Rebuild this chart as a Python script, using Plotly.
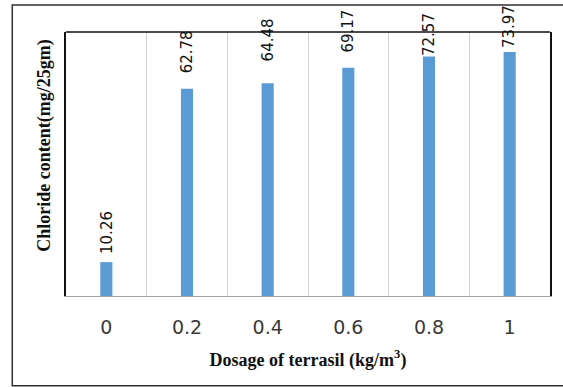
import plotly.graph_objects as go

# Chloride content measured at each terrasil dosage
dosage_labels = ["0", "0.2", "0.4", "0.6", "0.8", "1"]
chloride = [10.26, 62.78, 64.48, 69.17, 72.57, 73.97]

# vertical nudges (px) for the rotated value labels
label_shift = [6, 13, 20, 13, -2, 2]

BAR_BLUE = "#5B9BD5"

fig = go.Figure()
fig.add_trace(go.Bar(
    x=dosage_labels,
    y=chloride,
    marker=dict(color=BAR_BLUE, line=dict(width=0)),
    hoverinfo="x+y",
))

# rotated value labels above each bar (category index on the x axis)
for idx, (val, dy) in enumerate(zip(chloride, label_shift)):
    fig.add_annotation(
        x=idx, y=val, text=f"{val:.2f}", textangle=-90,
        showarrow=False, xanchor="center", yanchor="bottom", yshift=dy,
        font=dict(family="DejaVu Sans", size=15, color="#111111"),
    )

# outer frame around the whole figure
fig.add_shape(type="rect", xref="paper", yref="paper",
              x0=-0.111, x1=1.06, y0=-0.34, y1=1.102,
              line=dict(color="#303030", width=1.5), layer="below")
# top edge of plot area
fig.add_shape(type="line", xref="paper", yref="paper",
              x0=0, x1=1, y0=1, y1=1,
              line=dict(color="#111111", width=1.5))

fig.update_layout(
    width=563, height=387,
    margin=dict(l=66, r=11, t=32, b=91),
    paper_bgcolor="white", plot_bgcolor="white",
    bargap=0.85,
    showlegend=False,
    font=dict(family="DejaVu Sans", color="#404040"),
)

fig.update_xaxes(
    type="category",
    tickson="boundaries",
    showgrid=True, gridcolor="#D0D0D0", gridwidth=1,
    showline=True, linecolor="#A0A0A0", linewidth=1,
    ticks="", ticklen=0, ticklabelstandoff=14,
    tickfont=dict(family="DejaVu Sans", size=19, color="#3A3A3A"),
    title=dict(text="<b>Dosage of terrasil (kg/m<sup>3</sup>)</b>",
               font=dict(family="Liberation Serif", size=18, color="#111111"),
               standoff=16),
)

fig.update_yaxes(
    range=[0, 80],
    showgrid=False, zeroline=False,
    showticklabels=False, ticks="",
    showline=True, mirror=True, linecolor="#111111", linewidth=1.5,
)

# bold serif y-axis title
fig.add_annotation(
    xref="paper", yref="paper", x=-0.045, y=0.57,
    text="<b>Chloride content(mg/25gm)</b>", textangle=-90,
    showarrow=False, xanchor="center", yanchor="middle",
    font=dict(family="Liberation Serif", size=18, color="#111111"),
)

fig.write_html("out.html")
